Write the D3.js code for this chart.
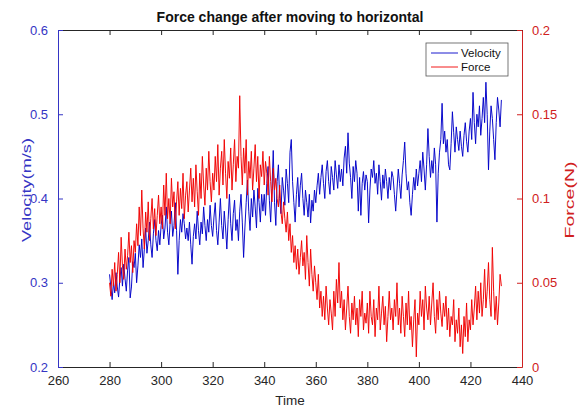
<!DOCTYPE html>
<html>
<head>
<meta charset="utf-8">
<script src="https://cdn.jsdelivr.net/npm/d3@7"></script>
<style>
  body { margin: 0; background: #fff; }
  text { font-family: "Liberation Sans", Arial, sans-serif; }
</style>
</head>
<body>
<svg id="chart"></svg>
<script>
// samples every half second from t = 280
const startTime = 280;
const timeStep = 0.5;

const velocity = [
  // 280-290
  0.310, 0.295, 0.280, 0.300, 0.288, 0.312, 0.295, 0.283, 0.305, 0.318, 0.296, 0.322, 0.305, 0.290, 0.315, 0.330, 0.282, 0.295, 0.325, 0.318,
  // 290-300
  0.335, 0.300, 0.320, 0.345, 0.330, 0.352, 0.318, 0.340, 0.365, 0.335, 0.350, 0.372, 0.345, 0.330, 0.358, 0.375, 0.350, 0.338, 0.362, 0.345,
  // 300-310
  0.368, 0.380, 0.352, 0.365, 0.390, 0.360, 0.345, 0.372, 0.385, 0.355, 0.368, 0.395, 0.362, 0.310, 0.350, 0.375, 0.360, 0.382, 0.370, 0.352,
  // 310-320
  0.365, 0.350, 0.372, 0.345, 0.322, 0.355, 0.370, 0.352, 0.385, 0.362, 0.345, 0.372, 0.358, 0.390, 0.368, 0.350, 0.375, 0.360, 0.392, 0.368,
  // 320-330
  0.355, 0.378, 0.395, 0.362, 0.345, 0.372, 0.400, 0.368, 0.352, 0.385, 0.365, 0.340, 0.375, 0.405, 0.370, 0.350, 0.382, 0.398, 0.362, 0.375,
  // 330-340
  0.350, 0.385, 0.405, 0.372, 0.330, 0.365, 0.395, 0.422, 0.385, 0.362, 0.400, 0.378, 0.410, 0.390, 0.365, 0.412, 0.395, 0.372, 0.405, 0.385,
  // 340-350
  0.405, 0.380, 0.418, 0.438, 0.398, 0.372, 0.412, 0.457, 0.395, 0.368, 0.420, 0.440, 0.400, 0.382, 0.425, 0.410, 0.392, 0.435, 0.418, 0.395,
  // 350-360
  0.455, 0.470, 0.420, 0.395, 0.372, 0.405, 0.425, 0.390, 0.415, 0.430, 0.400, 0.380, 0.410, 0.395, 0.378, 0.405, 0.371, 0.398, 0.385, 0.410,
  // 360-370
  0.395, 0.415, 0.430, 0.405, 0.425, 0.440, 0.418, 0.400, 0.432, 0.445, 0.420, 0.405, 0.438, 0.425, 0.410, 0.445, 0.428, 0.412, 0.440, 0.420,
  // 370-380
  0.435, 0.415, 0.448, 0.462, 0.430, 0.478, 0.442, 0.425, 0.400, 0.438, 0.420, 0.445, 0.430, 0.385, 0.425, 0.380, 0.418, 0.432, 0.410, 0.428,
  // 380-390
  0.420, 0.371, 0.410, 0.435, 0.425, 0.445, 0.418, 0.430, 0.405, 0.440, 0.420, 0.398, 0.428, 0.412, 0.435, 0.420, 0.400, 0.425, 0.410, 0.432,
  // 390-400
  0.425, 0.405, 0.385, 0.410, 0.435, 0.418, 0.400, 0.428, 0.445, 0.467, 0.430, 0.410, 0.420, 0.395, 0.380, 0.405, 0.425, 0.410, 0.435, 0.415,
  // 400-410
  0.430, 0.445, 0.420, 0.455, 0.435, 0.410, 0.440, 0.483, 0.450, 0.425, 0.445, 0.430, 0.460, 0.440, 0.372, 0.430, 0.455, 0.470, 0.513, 0.465,
  // 410-420
  0.480, 0.455, 0.470, 0.440, 0.434, 0.465, 0.503, 0.478, 0.455, 0.485, 0.470, 0.457, 0.480, 0.462, 0.450, 0.475, 0.490, 0.468, 0.455, 0.480,
  // 420-430
  0.495, 0.470, 0.526, 0.490, 0.465, 0.500, 0.485, 0.510, 0.475, 0.495, 0.520, 0.490, 0.538, 0.500, 0.434, 0.480, 0.510, 0.495, 0.470, 0.446,
  // 430-432
  0.490, 0.520, 0.505, 0.485, 0.517
];

const force = [
  // 280-290
  0.050, 0.042, 0.058, 0.048, 0.062, 0.045, 0.055, 0.068, 0.050, 0.077, 0.060, 0.052, 0.070, 0.058, 0.066, 0.080, 0.062, 0.072, 0.056, 0.075,
  // 290-300
  0.068, 0.085, 0.072, 0.095, 0.078, 0.105, 0.082, 0.070, 0.092, 0.080, 0.098, 0.075, 0.088, 0.100, 0.082, 0.094, 0.078, 0.090, 0.102, 0.085,
  // 300-310
  0.095, 0.082, 0.108, 0.090, 0.115, 0.088, 0.100, 0.085, 0.112, 0.095, 0.104, 0.082, 0.098, 0.110, 0.090, 0.106, 0.094, 0.115, 0.088, 0.102,
  // 310-320
  0.110, 0.092, 0.105, 0.118, 0.098, 0.112, 0.095, 0.120, 0.104, 0.090, 0.115, 0.100, 0.125, 0.108, 0.096, 0.118, 0.105, 0.128, 0.110, 0.098,
  // 320-330
  0.115, 0.105, 0.125, 0.110, 0.132, 0.102, 0.118, 0.128, 0.108, 0.135, 0.115, 0.100, 0.122, 0.112, 0.130, 0.105, 0.120, 0.135, 0.110, 0.125,
  // 330-340
  0.118, 0.161, 0.125, 0.108, 0.130, 0.115, 0.135, 0.102, 0.122, 0.112, 0.128, 0.105, 0.118, 0.132, 0.110, 0.125, 0.100, 0.120, 0.113, 0.128,
  // 340-350
  0.108, 0.122, 0.115, 0.102, 0.125, 0.110, 0.098, 0.118, 0.105, 0.112, 0.100, 0.095, 0.108, 0.092, 0.085, 0.098, 0.088, 0.080, 0.092, 0.075,
  // 350-360
  0.085, 0.068, 0.078, 0.062, 0.072, 0.058, 0.070, 0.055, 0.065, 0.075, 0.060, 0.068, 0.052, 0.078, 0.062, 0.048, 0.070, 0.055, 0.045, 0.060,
  // 360-370
  0.050, 0.040, 0.055, 0.035, 0.045, 0.030, 0.042, 0.028, 0.048, 0.035, 0.025, 0.040, 0.032, 0.022, 0.045, 0.030, 0.052, 0.038, 0.062, 0.035,
  // 370-380
  0.045, 0.028, 0.040, 0.022, 0.035, 0.048, 0.030, 0.020, 0.038, 0.028, 0.042, 0.025, 0.035, 0.018, 0.040, 0.030, 0.045, 0.022, 0.032, 0.026,
  // 380-390
  0.038, 0.020, 0.045, 0.030, 0.025, 0.040, 0.018, 0.035, 0.028, 0.048, 0.022, 0.032, 0.042, 0.025, 0.036, 0.015, 0.030, 0.045, 0.028, 0.035,
  // 390-400
  0.022, 0.040, 0.030, 0.050, 0.025, 0.035, 0.020, 0.042, 0.030, 0.018, 0.038, 0.025, 0.045, 0.022, 0.030, 0.012, 0.028, 0.040, 0.006, 0.032,
  // 400-410
  0.025, 0.045, 0.030, 0.040, 0.022, 0.048, 0.035, 0.028, 0.042, 0.025, 0.038, 0.050, 0.030, 0.020, 0.040, 0.028, 0.045, 0.032, 0.024, 0.038,
  // 410-420
  0.030, 0.042, 0.022, 0.035, 0.018, 0.030, 0.025, 0.040, 0.015, 0.028, 0.020, 0.035, 0.012, 0.025, 0.008, 0.030, 0.018, 0.038, 0.015, 0.028,
  // 420-430
  0.022, 0.040, 0.025, 0.035, 0.048, 0.028, 0.045, 0.032, 0.050, 0.030, 0.040, 0.058, 0.035, 0.045, 0.062, 0.040, 0.030, 0.071, 0.045, 0.028,
  // 430-432
  0.042, 0.025, 0.038, 0.055, 0.048
];

const timeTicks = [260, 280, 300, 320, 340, 360, 380, 400, 420, 440];
const velocityTicks = [0.2, 0.3, 0.4, 0.5, 0.6];
const forceTicks = [0, 0.05, 0.1, 0.15, 0.2];

const width = 582, height = 408;
const margin = { top: 30, right: 60, bottom: 41, left: 58 };
const blue = '#0000c8', red = '#f00000';
const axisBlue = '#3535c4', axisRed = '#d02020';

const svg = d3.select('#chart').attr('width', width).attr('height', height);

const x = d3.scaleLinear().domain([260, 440]).range([margin.left, width - margin.right]);
const yV = d3.scaleLinear().domain([0.2, 0.6]).range([height - margin.bottom, margin.top]);
const yF = d3.scaleLinear().domain([0, 0.2]).range([height - margin.bottom, margin.top]);

const tOf = i => startTime + i * timeStep;

const lineV = d3.line().x((d, i) => x(tOf(i))).y(d => yV(d));
const lineF = d3.line().x((d, i) => x(tOf(i))).y(d => yF(d));

svg.append('path').datum(velocity)
  .attr('d', lineV).attr('fill', 'none')
  .attr('stroke', blue).attr('stroke-width', 0.95);

svg.append('path').datum(force)
  .attr('d', lineF).attr('fill', 'none')
  .attr('stroke', red).attr('stroke-width', 0.95);

// axes, ticks pointing inwards like MATLAB
const tickSize = 5;
const xBottom = d3.axisBottom(x).tickValues(timeTicks).tickSizeInner(-tickSize).tickSizeOuter(0).tickPadding(9);
const xTop = d3.axisTop(x).tickValues(timeTicks).tickSizeInner(-tickSize).tickSizeOuter(0).tickFormat('');
const yLeft = d3.axisLeft(yV).tickValues(velocityTicks).tickSizeInner(-tickSize).tickSizeOuter(0).tickPadding(10).tickFormat(d3.format('.1f'));
const yRight = d3.axisRight(yF).tickValues(forceTicks).tickSizeInner(-tickSize).tickSizeOuter(0).tickPadding(10).tickFormat(d => d === 0 ? '0' : String(d));

function styleAxis(g, col, textCol) {
  g.select('.domain').attr('stroke', col);
  g.selectAll('.tick line').attr('stroke', col);
  g.selectAll('.tick text').attr('fill', textCol).attr('font-size', 13)
    .attr('font-family', '"Liberation Sans", Arial, sans-serif');
}

svg.append('g').attr('transform', `translate(0,${height - margin.bottom})`).call(xBottom)
  .call(g => styleAxis(g, '#262626', '#262626'));
svg.append('g').attr('transform', `translate(0,${margin.top})`).call(xTop)
  .call(g => styleAxis(g, '#262626', '#262626'));
svg.append('g').attr('transform', `translate(${margin.left},0)`).call(yLeft)
  .call(g => styleAxis(g, axisBlue, axisBlue));
svg.append('g').attr('transform', `translate(${width - margin.right},0)`).call(yRight)
  .call(g => styleAxis(g, axisRed, axisRed));

// titles
svg.append('text').attr('x', 290).attr('y', 22).attr('text-anchor', 'middle')
  .attr('font-size', 14).attr('font-weight', 'bold').attr('fill', '#111')
  .text('Force change after moving to horizontal');

svg.append('text').attr('x', 290).attr('y', 405).attr('text-anchor', 'middle')
  .attr('font-size', 13.5).attr('fill', '#262626').text('Time');

svg.append('text').attr('transform', 'translate(31,190) rotate(-90)').attr('text-anchor', 'middle')
  .attr('font-size', 12.5).attr('textLength', 104).attr('lengthAdjust', 'spacingAndGlyphs')
  .attr('fill', axisBlue).text('Velocity(m/s)');

svg.append('text').attr('transform', 'translate(574,200) rotate(-90)').attr('text-anchor', 'middle')
  .attr('font-size', 12.5).attr('textLength', 77).attr('lengthAdjust', 'spacingAndGlyphs')
  .attr('fill', axisRed).text('Force(N)');

// legend
const legend = svg.append('g').attr('transform', 'translate(426,43)');
legend.append('rect').attr('width', 82).attr('height', 33)
  .attr('fill', '#fff').attr('stroke', '#555').attr('stroke-width', 0.8);
const entries = [{ name: 'Velocity', col: blue }, { name: 'Force', col: red }];
entries.forEach((e, i) => {
  const yy = 10 + i * 14;
  legend.append('line').attr('x1', 5).attr('x2', 32).attr('y1', yy).attr('y2', yy)
    .attr('stroke', e.col).attr('stroke-width', 0.9);
  legend.append('text').attr('x', 35).attr('y', yy + 4).attr('font-size', 11.5)
    .attr('fill', '#111').text(e.name);
});
</script>
</body>
</html>
